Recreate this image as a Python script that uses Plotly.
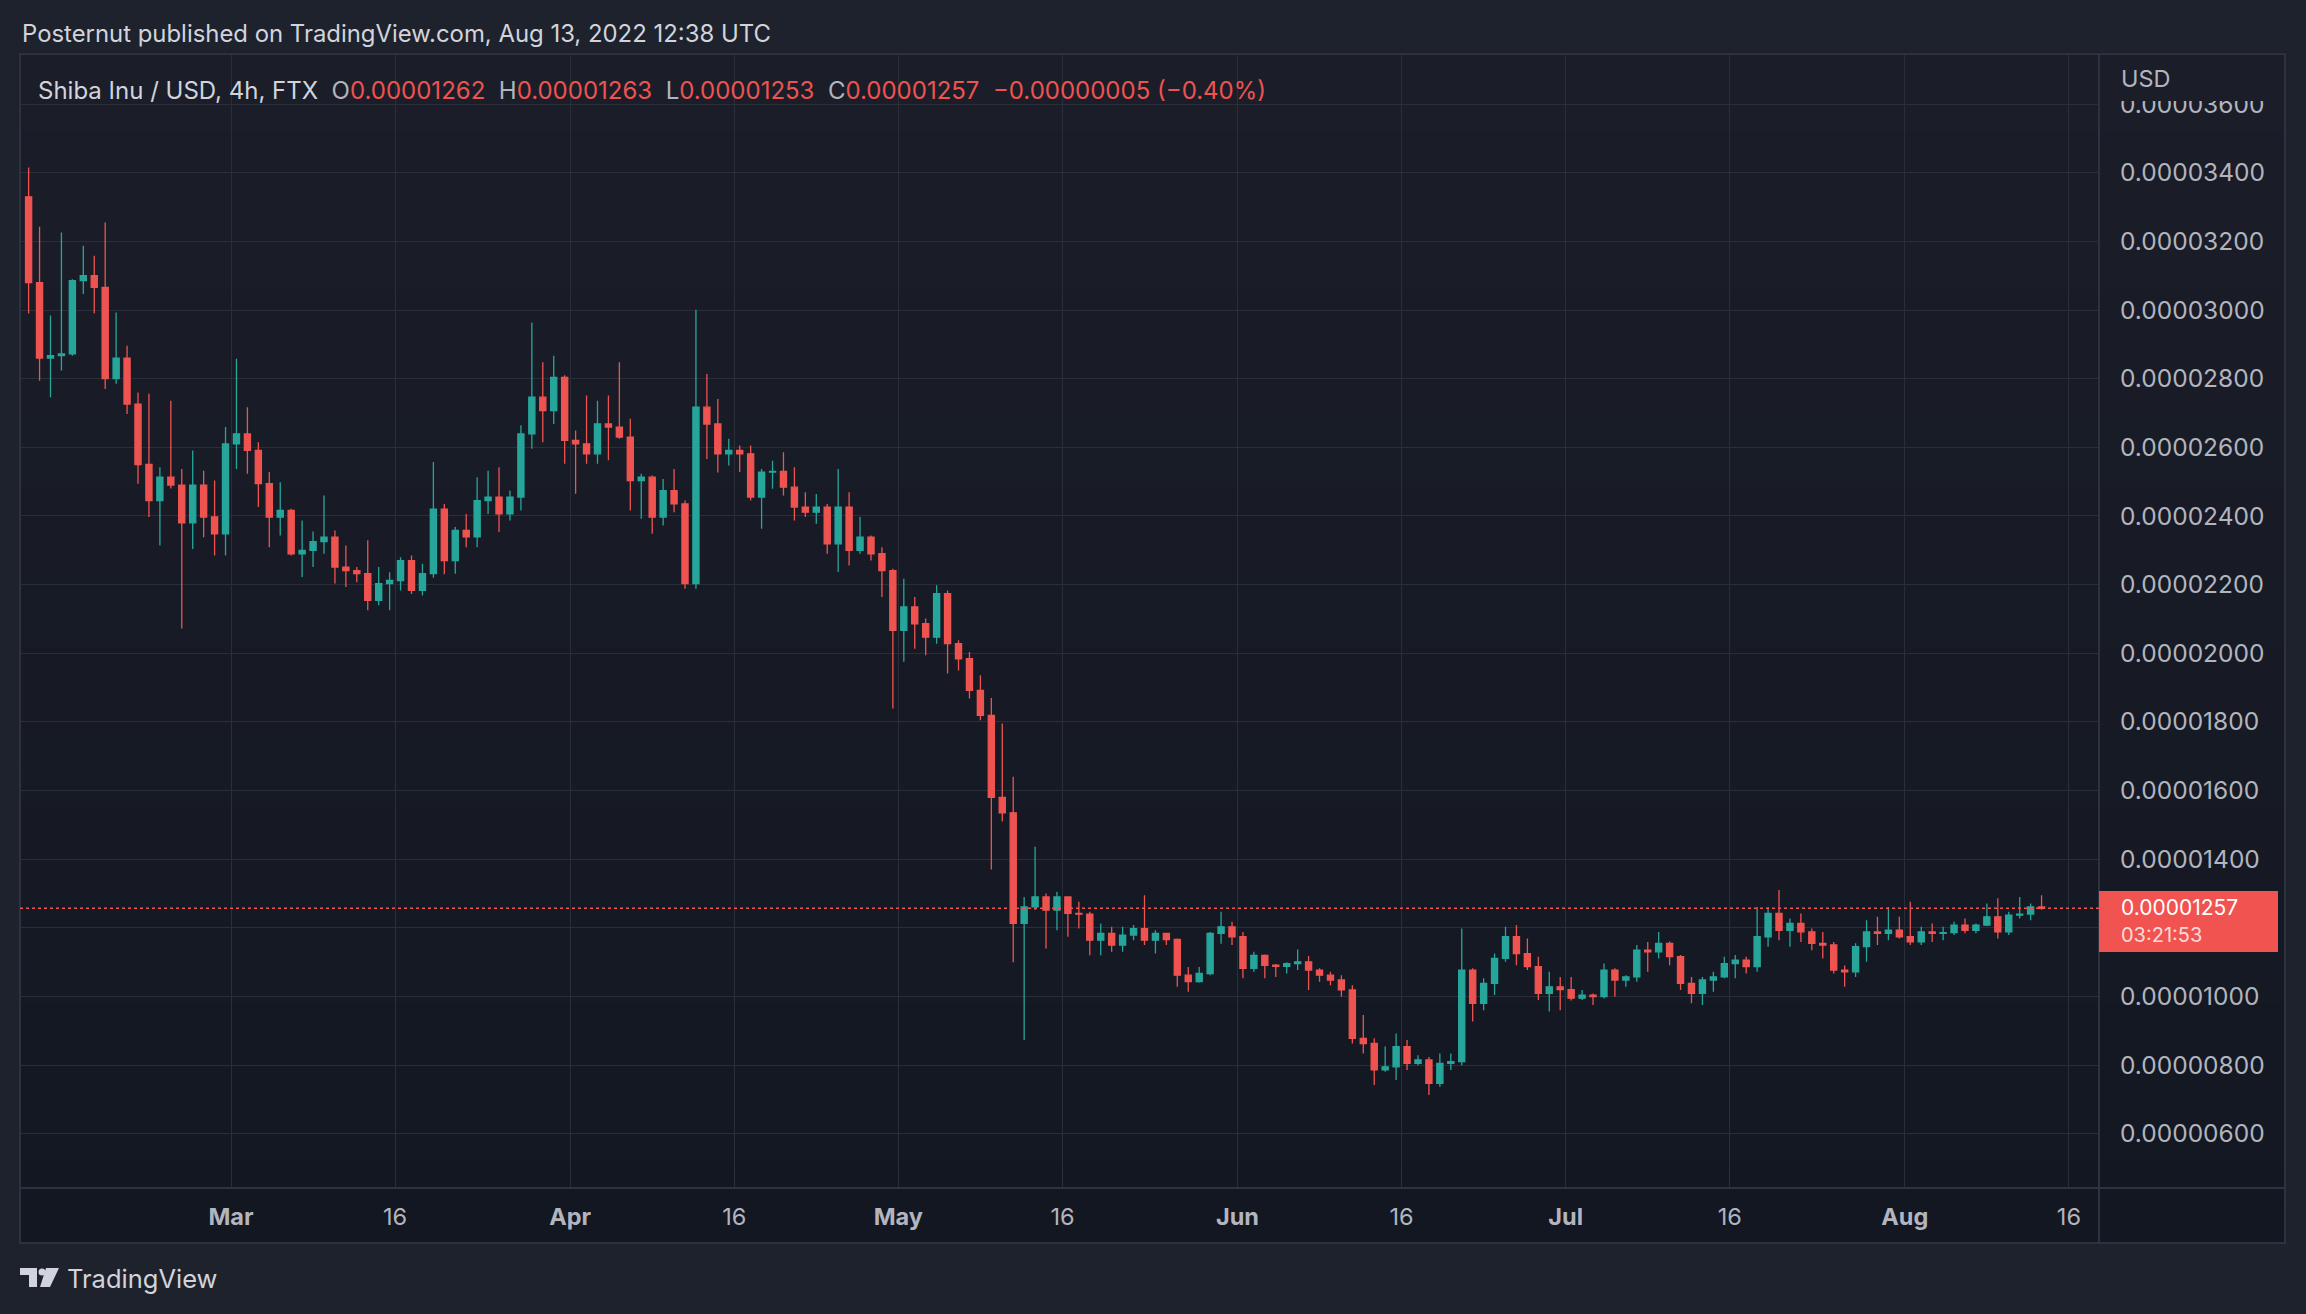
import pandas as pd
import plotly.graph_objects as go

# SHIB/USD daily candles, in millionths of a dollar (x 1e-6)
first_day = "2022-02-10"

opens = [
    33.3, 30.8, 28.6, 28.67, 28.72, 30.86, 31.0, 30.66, 28.0, 28.6,
    27.26, 25.5, 24.45, 25.13, 24.9, 23.8, 24.9, 23.97, 23.48,
    26.1, 26.39, 25.91, 24.94, 23.97, 24.16, 22.9, 23.0, 23.25, 23.38,
    22.51, 22.41, 22.32, 21.54, 22.03, 22.12, 22.7, 21.83, 22.32, 24.2,
    22.7, 23.58, 23.39, 24.45, 24.55, 24.06, 24.55, 26.39, 27.46, 27.07, 28.04,
    26.2, 26.1, 25.81, 26.68, 26.59, 26.3, 25.03, 25.13, 23.97, 24.74,
    24.35, 22.03, 27.17, 26.68, 25.81, 25.91, 25.81, 24.55, 25.28, 25.3,
    24.84, 24.26, 24.11, 24.26, 23.19, 24.26, 23.0, 23.38, 22.9, 22.41,
    20.67, 21.35, 20.86, 20.47, 21.74, 20.28, 19.84, 18.92, 18.19, 15.8,
    15.35, 12.13, 12.61, 12.9, 12.52, 12.9, 12.42, 12.4, 11.64, 11.84,
    11.5, 11.79, 11.98, 11.64, 11.84, 11.66, 10.62, 10.43, 10.67, 11.84, 12.03,
    11.74, 10.82, 11.2, 10.91, 10.88, 10.96, 11.01, 10.77, 10.62, 10.48,
    10.19, 8.78, 8.63, 7.86, 7.95, 8.54, 8.05, 8.15, 7.47, 8.05,
    8.1, 10.77, 9.8, 10.38, 11.11, 11.74, 11.25, 10.87, 10.09, 10.28,
    10.2, 9.95, 10.04, 10.0, 10.77, 10.48, 10.57, 11.35, 11.3, 11.55,
    11.16, 10.38, 10.09, 10.48, 10.57, 10.96, 11.06, 10.87, 11.74, 12.42,
    11.93, 12.13, 11.88, 11.55, 11.5, 10.77, 10.72, 11.45, 11.88, 11.84, 11.93,
    11.74, 11.59, 11.88, 11.84, 11.86, 12.08, 11.93, 12.08, 12.32, 11.88,
    12.37, 12.4, 12.61,
]
highs = [
    34.15, 32.43, 29.84, 32.26, 30.9, 31.87, 31.58, 32.55, 29.93, 28.96,
    27.6, 27.56, 25.42, 27.36, 25.37, 25.91, 25.32, 25.03, 26.59,
    28.58, 27.17, 26.15, 25.28, 24.98, 24.21, 23.87, 23.55, 24.6, 23.58,
    23.14, 22.51, 23.29, 22.51, 22.36, 22.8, 22.85, 22.61, 25.57, 24.35,
    23.68, 24.06, 25.13, 25.32, 25.42, 24.74, 26.64, 29.64, 28.48, 28.67, 28.1,
    26.49, 27.51, 27.36, 27.51, 28.48, 26.83, 25.23, 25.18, 25.08, 25.37,
    24.45, 30.01, 28.14, 27.41, 26.25, 26.05, 26.05, 25.37, 25.61, 25.86,
    25.42, 24.69, 24.64, 24.35, 25.37, 24.69, 23.97, 23.43, 23.09, 22.46,
    22.17, 21.64, 21.01, 21.98, 21.83, 20.38, 20.04, 19.36, 18.7, 17.95,
    16.4, 12.9, 14.36, 13.0, 13.05, 12.92, 12.76, 12.47, 12.13, 12.03,
    12.03, 12.08, 12.95, 11.93, 11.86, 11.69, 10.86, 10.86, 11.88, 12.47, 12.18,
    11.88, 11.3, 11.22, 10.95, 11.0, 11.37, 11.18, 10.82, 10.72, 10.62,
    10.33, 9.46, 8.78, 8.54, 8.92, 8.73, 8.29, 8.24, 8.34, 8.34,
    11.98, 10.82, 10.53, 11.25, 12.03, 12.08, 11.69, 11.16, 10.72, 10.57,
    10.57, 10.19, 10.09, 10.96, 10.82, 10.62, 11.5, 11.59, 11.88, 11.6,
    11.21, 10.57, 10.57, 10.72, 11.16, 11.21, 11.16, 12.61, 12.61, 13.1,
    12.27, 12.42, 11.98, 11.88, 11.59, 10.9, 11.55, 12.22, 12.32, 12.61, 12.32,
    12.76, 12.03, 12.13, 12.03, 12.18, 12.27, 12.13, 12.71, 12.86, 12.47,
    12.9, 12.71, 12.95,
]
lows = [
    29.9, 27.94, 27.46, 28.24, 28.67, 30.47, 29.91, 27.7, 27.85, 26.97,
    24.94, 23.97, 23.14, 24.8, 20.72, 23.04, 23.38, 22.85, 22.85,
    25.37, 25.23, 24.26, 23.09, 23.43, 22.85, 22.22, 22.51, 22.9, 22.03,
    21.93, 22.07, 21.25, 21.4, 21.25, 21.83, 21.73, 21.68, 22.2, 22.3,
    22.32, 23.09, 23.09, 24.06, 23.53, 23.87, 24.16, 25.96, 26.15, 26.68, 25.52,
    24.65, 25.52, 25.52, 25.62, 26.25, 24.16, 23.92, 23.48, 23.72, 24.11,
    21.88, 21.88, 25.66, 25.27, 25.47, 25.28, 24.45, 23.63, 24.79, 24.6,
    23.87, 23.97, 23.77, 22.9, 22.37, 22.56, 22.9, 22.7, 21.64, 18.39,
    19.75, 20.13, 19.94, 20.28, 19.41, 19.5, 18.68, 18.05, 13.7, 15.1,
    11.0, 8.73, 12.52, 11.4, 11.93, 11.74, 11.98, 11.2, 11.2, 11.3,
    11.3, 11.64, 11.5, 11.25, 11.5, 10.28, 10.14, 10.4, 10.62, 11.54, 11.5,
    10.53, 10.72, 10.53, 10.57, 10.67, 10.77, 10.19, 10.43, 10.33, 9.99,
    8.63, 8.34, 7.42, 7.81, 7.57, 7.86, 8.0, 7.13, 7.37, 7.86,
    8.0, 9.27, 9.6, 10.04, 11.01, 10.91, 10.77, 9.9, 9.56, 9.6,
    9.88, 9.9, 9.75, 9.94, 9.99, 10.28, 10.43, 10.72, 11.11, 10.91,
    10.19, 9.8, 9.75, 10.14, 10.53, 10.53, 10.67, 10.72, 11.45, 11.64,
    11.45, 11.59, 11.35, 11.11, 10.67, 10.28, 10.57, 11.01, 11.5, 11.64, 11.69,
    11.5, 11.5, 11.59, 11.64, 11.79, 11.84, 11.84, 12.05, 11.69, 11.79,
    12.27, 12.22, 12.53,
]
closes = [
    30.8, 28.6, 28.67, 28.72, 30.86, 31.0, 30.66, 28.0, 28.6, 27.26,
    25.5, 24.45, 25.13, 24.9, 23.8, 24.9, 23.97, 23.48, 26.1,
    26.39, 25.91, 24.94, 23.97, 24.16, 22.9, 23.0, 23.25, 23.38, 22.51,
    22.41, 22.32, 21.54, 22.03, 22.12, 22.7, 21.83, 22.32, 24.2, 22.7,
    23.58, 23.39, 24.45, 24.55, 24.06, 24.55, 26.39, 27.46, 27.07, 28.04, 26.2,
    26.1, 25.81, 26.68, 26.59, 26.3, 25.03, 25.13, 23.97, 24.74, 24.35,
    22.03, 27.17, 26.68, 25.81, 25.91, 25.81, 24.55, 25.28, 25.3, 24.84,
    24.26, 24.11, 24.26, 23.19, 24.26, 23.0, 23.38, 22.9, 22.41, 20.67,
    21.35, 20.86, 20.47, 21.74, 20.28, 19.84, 18.92, 18.19, 15.8, 15.35,
    12.13, 12.61, 12.9, 12.52, 12.9, 12.42, 12.4, 11.64, 11.84, 11.5,
    11.79, 11.98, 11.64, 11.84, 11.66, 10.62, 10.43, 10.67, 11.84, 12.03, 11.74,
    10.82, 11.2, 10.91, 10.88, 10.96, 11.01, 10.77, 10.62, 10.48, 10.19,
    8.78, 8.63, 7.86, 7.95, 8.54, 8.05, 8.15, 7.47, 8.05, 8.1,
    10.77, 9.8, 10.38, 11.11, 11.74, 11.25, 10.87, 10.09, 10.28, 10.2,
    9.95, 10.04, 10.0, 10.77, 10.48, 10.57, 11.35, 11.3, 11.55, 11.16,
    10.38, 10.09, 10.48, 10.57, 10.96, 11.06, 10.87, 11.74, 12.42, 11.93,
    12.13, 11.88, 11.55, 11.5, 10.77, 10.72, 11.45, 11.88, 11.84, 11.93, 11.74,
    11.59, 11.88, 11.84, 11.86, 12.08, 11.93, 12.08, 12.32, 11.88, 12.37,
    12.4, 12.61, 12.57,
]

x_tick_dates = ["2022-03-01", "2022-03-16", "2022-04-01", "2022-04-16", "2022-05-01",
                "2022-05-16", "2022-06-01", "2022-06-16", "2022-07-01", "2022-07-16",
                "2022-08-01", "2022-08-16"]
x_tick_text = ["<b>Mar</b>", "16", "<b>Apr</b>", "16", "<b>May</b>", "16",
               "<b>Jun</b>", "16", "<b>Jul</b>", "16", "<b>Aug</b>", "16"]
y_ticks = [6, 8, 10, 12, 14, 16, 18, 20, 22, 24, 26, 28, 30, 32, 34, 36]
last_price = 12.57
countdown = "03:21:53"

UNIT = 1e-6
UP = "#26a69a"
DOWN = "#ef5350"
GRID = "#2a2e39"
BORDER = "#2e323e"
TEXT = "#b2b5be"
FONT = "Inter, Roboto, sans-serif"

# figure pixel geometry (2306 x 1314)
W, H = 2306, 1314
L, R, T, B = 20, 2099, 54, 1188   # plot area edges
FRAME_R, FRAME_B = 2285, 1243


def px(x):
    return (x - L) / (R - L)


def py(y):
    return (B - y) / (B - T)


def band_colour(y):
    # vertical gradient of the chart frame, top -> bottom
    t = min(max((y - T) / (FRAME_B - T), 0), 1)
    top_rgb, bot_rgb = (27, 30, 41), (19, 23, 34)
    c = tuple(round(a + (b - a) * t) for a, b in zip(top_rgb, bot_rgb))
    return "rgb(%d,%d,%d)" % c


days = pd.date_range(first_day, periods=len(closes), freq="D") + pd.Timedelta(hours=12)

# the last-price tag hides the axis label right under it (the grid line stays)
y_tick_text = ["" if abs(v - last_price) < 1 else "%.8f" % (v * UNIT) for v in y_ticks]

fig = go.Figure()
fig.add_trace(go.Candlestick(
    x=days,
    open=[v * UNIT for v in opens],
    high=[v * UNIT for v in highs],
    low=[v * UNIT for v in lows],
    close=[v * UNIT for v in closes],
    increasing=dict(line=dict(color=UP, width=1.3), fillcolor=UP),
    decreasing=dict(line=dict(color=DOWN, width=1.3), fillcolor=DOWN),
    whiskerwidth=0,
    showlegend=False,
    hoverinfo="skip",
))

shapes = []
n_bands = 30
for i in range(n_bands):
    y0 = T + (FRAME_B - T) * i / n_bands
    y1 = T + (FRAME_B - T) * (i + 1) / n_bands
    shapes.append(dict(type="rect", xref="paper", yref="paper", layer="below",
                       x0=px(L), x1=px(FRAME_R), y0=py(y1), y1=py(y0) + 0.001,
                       fillcolor=band_colour((y0 + y1) / 2), line=dict(width=0)))
# the "USD" header strip hides the top of the uppermost price label
shapes.append(dict(type="rect", xref="paper", yref="paper", layer="above",
                   x0=px(R + 2), x1=px(FRAME_R - 2), y0=py(101), y1=py(T + 2),
                   fillcolor=band_colour(78), line=dict(width=0)))
# panel separators and outer border
shapes.append(dict(type="line", xref="paper", yref="paper", x0=1, x1=1,
                   y0=py(FRAME_B), y1=1, line=dict(color=BORDER, width=2)))
shapes.append(dict(type="line", xref="paper", yref="paper", x0=0, x1=px(FRAME_R),
                   y0=0, y1=0, line=dict(color=BORDER, width=2)))
shapes.append(dict(type="rect", xref="paper", yref="paper", x0=0, x1=px(FRAME_R),
                   y0=py(FRAME_B), y1=1, line=dict(color=BORDER, width=2)))
# last price dotted line
shapes.append(dict(type="line", xref="paper", yref="y", x0=0, x1=1,
                   y0=last_price * UNIT, y1=last_price * UNIT,
                   line=dict(color=DOWN, width=1.5, dash="dot")))
# last price tag on the axis
shapes.append(dict(type="rect", xref="paper", yref="paper", layer="above",
                   x0=1, x1=px(2278), y0=py(952), y1=py(891),
                   fillcolor="#f05350", line=dict(width=0)))
# TradingView logo mark
logo_t = [(20, 1268), (37, 1268), (37, 1287), (29, 1287), (29, 1275), (20, 1275)]
logo_s = [(46, 1268), (59, 1268), (50, 1287), (40, 1287)]
for poly in (logo_t, logo_s):
    path = "M " + " L ".join("%f,%f" % (px(a), py(b)) for a, b in poly) + " Z"
    shapes.append(dict(type="path", xref="paper", yref="paper", path=path,
                       fillcolor="#d1d4dc", line=dict(width=0)))
shapes.append(dict(type="circle", xref="paper", yref="paper",
                   x0=px(38.5), x1=px(45.5), y0=py(1275.5), y1=py(1268.5),
                   fillcolor="#d1d4dc", line=dict(width=0)))

sp = "\u00a0\u00a0"
red = lambda s: "<span style='color:%s'>%s</span>" % (DOWN, s)
legend_text = (
    "<span style='color:#d1d4dc'>Shiba Inu / USD, 4h, FTX</span>" + sp
    + "O" + red("0.00001262") + sp + "H" + red("0.00001263") + sp
    + "L" + red("0.00001253") + sp + "C" + red("0.00001257") + sp
    + red("\u22120.00000005 (\u22120.40%)")
)
price_tag = ("%.8f<br><span style='color:rgba(255,255,255,0.8);font-size:20px'>%s</span>"
             % (last_price * UNIT, countdown))

annotations = [
    dict(text="Posternut published on TradingView.com, Aug 13, 2022 12:38 UTC",
         x=px(20), y=py(34), xanchor="left", yanchor="middle",
         font=dict(size=23.9, color="#d1d4dc")),
    dict(text=legend_text, x=px(36), y=py(90), xanchor="left", yanchor="middle",
         font=dict(size=24, color=TEXT)),
    dict(text="USD", x=px(2119), y=py(79), xanchor="left", yanchor="middle",
         font=dict(size=23.5, color=TEXT)),
    dict(text=price_tag, x=px(2119), y=py(921), xanchor="left", yanchor="middle",
         align="left", font=dict(size=21, color="#ffffff")),
    dict(text="TradingView", x=px(65), y=py(1278), xanchor="left", yanchor="middle",
         font=dict(size=25.5, color="#d1d4dc")),
]
for a in annotations:
    a.update(xref="paper", yref="paper", showarrow=False)

fig.update_layout(
    width=W, height=H,
    margin=dict(l=L, r=W - R, t=T, b=H - B, autoexpand=False),
    paper_bgcolor="#1e222d",
    plot_bgcolor="rgba(0,0,0,0)",
    font=dict(family=FONT, size=22, color=TEXT),
    boxgap=0.2,
    shapes=shapes,
    annotations=annotations,
    xaxis=dict(
        type="date",
        range=["2022-02-09 17:07", "2022-08-18 18:00"],
        tickvals=x_tick_dates, ticktext=x_tick_text,
        showgrid=True, gridcolor=GRID, gridwidth=1,
        showline=False, zeroline=False, ticks="",
        ticklabelstandoff=12,
        tickfont=dict(size=23.5, color=TEXT),
        rangeslider=dict(visible=False),
        fixedrange=True,
    ),
    yaxis=dict(
        side="right",
        range=[4.42 * UNIT, 37.46 * UNIT],
        tickvals=[v * UNIT for v in y_ticks],
        ticktext=y_tick_text,
        showgrid=True, gridcolor=GRID, gridwidth=1,
        showline=False, zeroline=False, ticks="",
        ticklabelstandoff=20,
        tickfont=dict(size=24.5, color=TEXT),
        fixedrange=True,
    ),
    showlegend=False,
)

# the page is photographed from its top-left corner: drop the default body margin
fig.write_html("out.html", config={"displayModeBar": False},
               post_script="document.body.style.margin='0px';")
